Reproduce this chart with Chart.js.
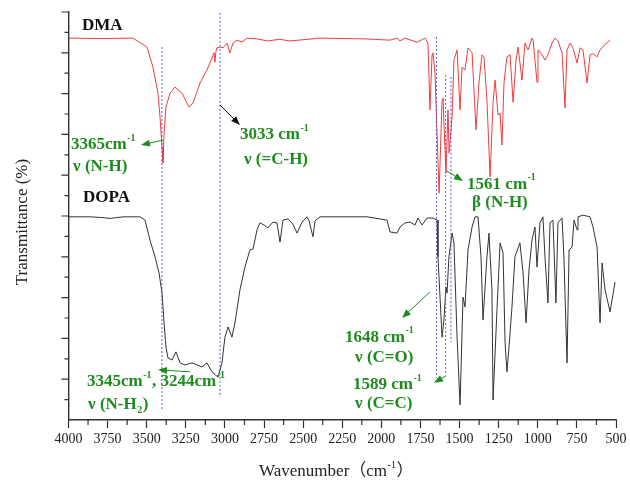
<!DOCTYPE html>
<html>
<head>
<meta charset="utf-8">
<script src="https://cdn.jsdelivr.net/npm/chart.js@4"></script>
<style>
  html, body { margin: 0; padding: 0; background: #fff; }
</style>
</head>
<body>
<canvas id="ftir" width="630" height="486"></canvas>
<script>
// FTIR spectra: wavenumber (cm-1) and transmittance (arbitrary %)
const dmaWavenumber = [
  4000, 3800, 3588, 3498, 3460, 3428, 3415, 3402, 3396, 3389,
  3377, 3351, 3319, 3274, 3230, 3204, 3159, 3115, 3083, 3070,
  3064, 3058, 3051, 3031, 3012, 2987, 2968, 2948, 2923, 2891,
  2859, 2790, 2731, 2650, 2584, 2392, 2100, 1945, 1900, 1881,
  1850, 1772, 1721, 1702, 1689, 1676, 1670, 1657, 1631, 1612,
  1606, 1587, 1574, 1567, 1548, 1536, 1516, 1497, 1484, 1465,
  1446, 1420, 1395, 1376, 1357, 1344, 1325, 1305, 1286, 1273,
  1254, 1241, 1229, 1216, 1197, 1177, 1158, 1139, 1126, 1101,
  1082, 1062, 1037, 1030, 1005, 999, 973, 954, 935, 909,
  890, 871, 845, 826, 813, 794, 775, 749, 730, 711,
  685, 666, 647, 621, 602, 570, 538
];
const dmaTransmittance = [
  93.6, 93.5, 93.6, 91.4, 86.5, 80.1, 74.3, 66.9, 63.0, 70.3,
  76.7, 80.1, 81.6, 80.1, 76.7, 77.7, 82.6, 85.8, 88.7, 90.0,
  87.7, 90.2, 91.2, 91.4, 91.2, 92.4, 90.0, 92.4, 93.1, 92.6,
  93.6, 93.4, 92.9, 93.3, 92.9, 93.6, 93.4, 93.1, 93.6, 92.9,
  93.6, 92.6, 93.6, 92.4, 76.0, 89.5, 90.0, 85.0, 55.6, 78.4,
  78.9, 60.5, 76.0, 65.4, 74.3, 88.2, 90.7, 76.0, 86.5, 85.8,
  91.2, 90.0, 71.1, 82.6, 89.5, 89.0, 78.4, 59.6, 77.7, 83.3,
  74.8, 75.2, 67.4, 82.6, 89.0, 89.5, 77.9, 88.2, 91.4, 83.3,
  92.4, 90.7, 93.6, 93.1, 82.8, 90.7, 89.5, 88.2, 89.5, 92.4,
  93.6, 92.9, 90.0, 76.5, 90.7, 92.4, 91.2, 87.5, 91.2, 90.7,
  82.6, 89.5, 89.8, 89.0, 90.7, 92.0, 93.1
];

const dopaWavenumber = [
  4000, 3860, 3780, 3735, 3650, 3543, 3511, 3479, 3447, 3421,
  3402, 3389, 3377, 3364, 3338, 3313, 3287, 3255, 3210, 3178,
  3147, 3115, 3083, 3044, 3019, 3000, 2980, 2955, 2936, 2904,
  2872, 2840, 2820, 2795, 2776, 2750, 2725, 2693, 2667, 2648,
  2629, 2597, 2565, 2539, 2507, 2475, 2462, 2437, 2424, 2392,
  2347, 2245, 2091, 1964, 1945, 1900, 1881, 1849, 1817, 1785,
  1766, 1740, 1708, 1670, 1644, 1638, 1612, 1600, 1587, 1580,
  1568, 1548, 1536, 1516, 1497, 1478, 1465, 1446, 1420, 1401,
  1382, 1363, 1350, 1325, 1312, 1293, 1286, 1261, 1241, 1222,
  1209, 1197, 1184, 1165, 1146, 1114, 1094, 1075, 1056, 1037,
  1018, 1005, 986, 967, 954, 935, 922, 903, 884, 871,
  845, 833, 813, 800, 781, 768, 749, 743, 711, 666,
  647, 621, 602, 589, 570, 538, 506
];
const dopaTransmittance = [
  49.8, 49.8, 49.6, 49.4, 49.8, 49.8, 49.0, 44.1, 40.0, 36.0,
  31.1, 23.8, 17.9, 15.2, 14.7, 16.7, 14.0, 13.5, 14.0, 13.5,
  13.0, 14.0, 11.8, 10.5, 14.0, 20.3, 22.8, 20.3, 23.8, 31.9,
  37.5, 41.7, 41.9, 46.6, 48.3, 47.8, 47.1, 48.5, 48.3, 43.6,
  49.0, 49.3, 48.0, 45.8, 48.5, 49.8, 48.8, 44.9, 48.8, 49.8,
  49.8, 49.8, 49.8, 49.0, 46.1, 45.8, 47.3, 48.3, 48.5, 47.8,
  49.5, 47.8, 49.5, 49.5, 49.0, 40.0, 20.3, 24.5, 32.6, 31.1,
  40.0, 45.8, 43.4, 20.3, 3.7, 30.1, 27.7, 41.7, 47.3, 49.8,
  49.8, 40.0, 24.5, 40.0, 45.8, 31.9, 4.9, 26.9, 43.4, 40.9,
  18.9, 11.8, 17.9, 27.7, 40.0, 43.4, 36.0, 23.8, 36.8, 44.1,
  47.3, 37.5, 48.3, 49.8, 40.0, 28.7, 48.3, 49.0, 28.7, 48.3,
  49.5, 40.0, 14.0, 41.7, 42.4, 49.0, 46.6, 49.8, 50.2, 49.8,
  47.3, 42.4, 23.8, 38.5, 31.9, 26.5, 33.8
];

const xTickValues = [4000, 3750, 3500, 3250, 3000, 2750, 2500, 2250, 2000, 1750, 1500, 1250, 1000, 750, 500];

// dotted guide lines at the assigned bands
const guideWavenumber = [3403, 3031, 1648, 1589, 1555];
const guideTop = [91.4, 99.8, 93.9, 84.6, 84.1];
const guideBottom = [2.5, 5.6, 10.3, 11.0, 19.1];

const SERIF = '"Liberation Serif", "Times New Roman", "Noto Sans CJK SC", serif';
const GREEN = '#1e8c1e';

const notes = [
  { x: 3914, y: 96.6, color: '#111', parts: ['DMA'] },
  { x: 3907, y: 54.4, color: '#111', parts: ['DOPA'] },
  { x: 3984, y: 67.4, color: GREEN, parts: ['3365cm', { sup: '-1' }] },
  { x: 3971, y: 62.0, color: GREEN, parts: ['\u03BD (N-H)'] },
  { x: 2904, y: 69.9, color: GREEN, parts: ['3033 cm', { sup: '-1' }] },
  { x: 2878, y: 63.7, color: GREEN, parts: ['\u03BD (=C-H)'] },
  { x: 1452, y: 57.8, color: GREEN, parts: ['1561 cm', { sup: '-1' }] },
  { x: 1420, y: 53.2, color: GREEN, parts: ['\u03B2 (N-H)'] },
  { x: 2232, y: 20.3, color: GREEN, parts: ['1648 cm', { sup: '-1' }] },
  { x: 2168, y: 15.2, color: GREEN, parts: ['\u03BD (C=O)'] },
  { x: 2181, y: 8.6, color: GREEN, parts: ['1589 cm', { sup: '-1' }] },
  { x: 2168, y: 4.1, color: GREEN, parts: ['\u03BD (C=C)'] },
  { x: 3882, y: 9.3, color: GREEN, parts: ['3345cm', { sup: '-1' }, ', 3244cm', { sup: '-1' }] },
  { x: 3875, y: 3.7, color: GREEN, parts: ['\u03BD (N-H', { sub: '2' }, ')'] }
];

const arrows = [
  { from: [3396, 68.6], to: [3537, 67.4], color: GREEN },
  { from: [3031, 77.2], to: [2904, 72.3], color: '#111' },
  { from: [1581, 61.0], to: [1478, 58.6], color: GREEN },
  { from: [1689, 31.4], to: [1868, 25.0], color: GREEN },
  { from: [1587, 10.8], to: [1664, 9.1], color: GREEN },
  { from: [3223, 11.8], to: [3428, 12.3], color: GREEN }
];

const toPoints = (xs, ys) => xs.map((v, i) => ({ x: v, y: ys[i] }));

const guideSets = guideWavenumber.map((wn, i) => ({
  data: [{ x: wn, y: guideTop[i] }, { x: wn, y: guideBottom[i] }],
  borderColor: '#5a5ad8',
  borderWidth: 1,
  borderDash: [2, 2],
  pointRadius: 0
}));

// draw text made of plain / superscript / subscript pieces, left aligned
function richWidth(ctx, parts, size, weight) {
  let w = 0;
  parts.forEach(p => {
    if (typeof p === 'string') {
      ctx.font = `${weight} ${size}px ${SERIF}`;
      w += ctx.measureText(p).width;
    } else {
      ctx.font = `${weight} ${Math.round(size * 0.6)}px ${SERIF}`;
      w += ctx.measureText(p.sup || p.sub).width + 1;
    }
  });
  return w;
}

function drawRich(ctx, x, y, parts, size, weight, color) {
  ctx.fillStyle = color;
  ctx.textBaseline = 'middle';
  ctx.textAlign = 'left';
  let cx = x;
  parts.forEach(p => {
    if (typeof p === 'string') {
      ctx.font = `${weight} ${size}px ${SERIF}`;
      ctx.fillText(p, cx, y);
      cx += ctx.measureText(p).width;
    } else {
      const t = p.sup || p.sub;
      const dy = p.sup ? -size * 0.38 : size * 0.32;
      ctx.font = `${weight} ${Math.round(size * 0.6)}px ${SERIF}`;
      ctx.fillText(t, cx + 0.5, y + dy);
      cx += ctx.measureText(t).width + 1;
    }
  });
}

const decorations = {
  id: 'decorations',
  afterDraw(chart) {
    const { ctx, chartArea: area, scales: { x, y } } = chart;
    ctx.save();

    // minor x ticks and y ticks
    ctx.strokeStyle = '#333';
    ctx.lineWidth = 1.2;
    ctx.beginPath();
    for (let i = 0; i < xTickValues.length - 1; i++) {
      const px = x.getPixelForValue((xTickValues[i] + xTickValues[i + 1]) / 2);
      ctx.moveTo(px, area.bottom);
      ctx.lineTo(px, area.bottom + 5);
    }
    for (let v = 5; v <= 100; v += 5) {
      const py = y.getPixelForValue(v);
      const len = v % 10 === 0 ? 7 : 4;
      ctx.moveTo(area.left - len, py);
      ctx.lineTo(area.left, py);
    }
    ctx.stroke();

    // arrows
    arrows.forEach(a => {
      const x1 = x.getPixelForValue(a.from[0]), y1 = y.getPixelForValue(a.from[1]);
      const x2 = x.getPixelForValue(a.to[0]), y2 = y.getPixelForValue(a.to[1]);
      const ang = Math.atan2(y2 - y1, x2 - x1);
      ctx.strokeStyle = a.color;
      ctx.fillStyle = a.color;
      ctx.lineWidth = 1;
      ctx.beginPath();
      ctx.moveTo(x1, y1);
      ctx.lineTo(x2 - 6 * Math.cos(ang), y2 - 6 * Math.sin(ang));
      ctx.stroke();
      ctx.beginPath();
      ctx.moveTo(x2, y2);
      ctx.lineTo(x2 - 9 * Math.cos(ang) + 3.5 * Math.sin(ang), y2 - 9 * Math.sin(ang) - 3.5 * Math.cos(ang));
      ctx.lineTo(x2 - 9 * Math.cos(ang) - 3.5 * Math.sin(ang), y2 - 9 * Math.sin(ang) + 3.5 * Math.cos(ang));
      ctx.closePath();
      ctx.fill();
    });

    // labels on the plot
    notes.forEach(n => {
      drawRich(ctx, x.getPixelForValue(n.x), y.getPixelForValue(n.y), n.parts, 17, 'bold', n.color);
    });

    // axis titles
    const xt = ['Wavenumber\uFF08cm', { sup: '-1' }, '\uFF09'];
    const w = richWidth(ctx, xt, 17, 'normal');
    drawRich(ctx, (area.left + area.right) / 2 - 6 - w / 2, 472, xt, 17, 'normal', '#222');

    ctx.translate(23, (area.top + area.bottom) / 2 + 6);
    ctx.rotate(-Math.PI / 2);
    ctx.font = `17px ${SERIF}`;
    ctx.fillStyle = '#222';
    ctx.textAlign = 'center';
    ctx.textBaseline = 'middle';
    ctx.fillText('Transmittance (%)', 0, 0);
    ctx.restore();
  }
};

new Chart(document.getElementById('ftir'), {
  type: 'line',
  data: {
    datasets: [
      ...guideSets,
      {
        label: 'DMA',
        data: toPoints(dmaWavenumber, dmaTransmittance),
        borderColor: '#f03c3c',
        borderWidth: 1,
        pointRadius: 0,
        tension: 0
      },
      {
        label: 'DOPA',
        data: toPoints(dopaWavenumber, dopaTransmittance),
        borderColor: '#333',
        borderWidth: 1,
        pointRadius: 0,
        tension: 0
      }
    ]
  },
  options: {
    responsive: false,
    animation: false,
    layout: { padding: { top: 12, right: 14, left: 0, bottom: 0 } },
    plugins: { legend: { display: false }, tooltip: { enabled: false } },
    scales: {
      x: {
        type: 'linear',
        reverse: true,
        min: 500,
        max: 4000,
        afterBuildTicks: s => { s.ticks = xTickValues.map(v => ({ value: v })); },
        afterFit: s => { s.height = 66; },
        ticks: {
          autoSkip: false,
          maxRotation: 0,
          padding: 3,
          color: '#222',
          font: { family: SERIF, size: 14 },
          callback: v => String(v)
        },
        grid: { drawOnChartArea: false, tickLength: 8, color: '#333', tickWidth: 1.2 },
        border: { color: '#333', width: 1.4 }
      },
      y: {
        min: 0,
        max: 100,
        afterFit: s => { s.width = 68.5; },
        ticks: { display: false },
        grid: { display: false },
        border: { color: '#333', width: 1.4 }
      }
    }
  },
  plugins: [decorations]
});
</script>
</body>
</html>
